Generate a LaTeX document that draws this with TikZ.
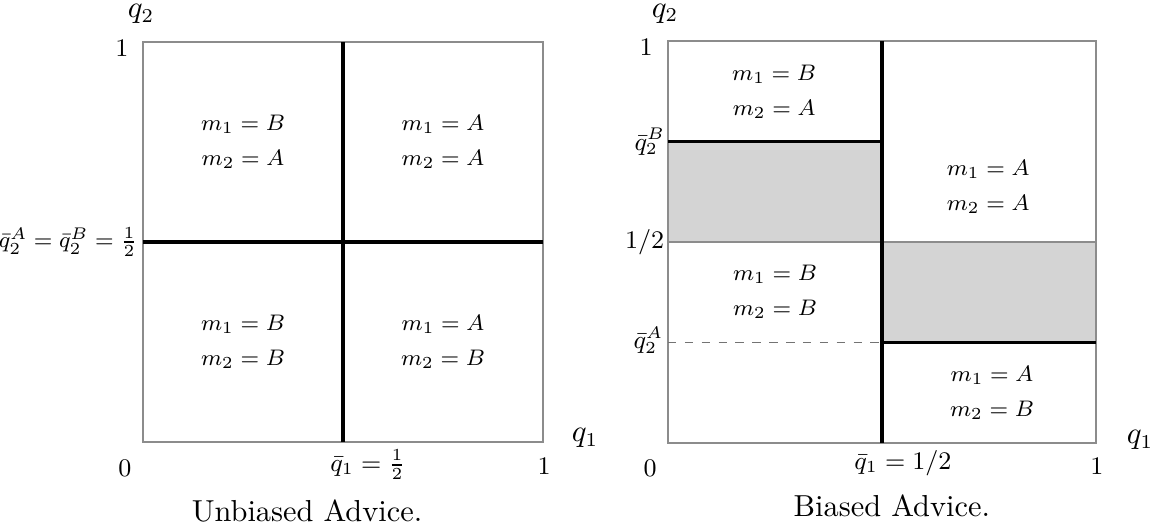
\documentclass[tikz,border=0pt]{standalone}
\usepackage{amsmath}
\usepackage{tikz}
\usetikzlibrary{positioning}

\begin{document}
\begin{tikzpicture}[
    frame/.style={draw=black!45, line width=0.4pt},
    bound/.style={draw=black, line width=1.15pt},
    guide/.style={draw=black!55, line width=0.4pt, dashed},
    shaded/.style={fill=black!17},
    region/.style={align=center, font=\fontsize{8.2}{12.4}\selectfont, inner sep=0pt},
    tick/.style={font=\fontsize{9}{11}\selectfont, inner sep=0pt},
    corner/.style={font=\fontsize{9.5}{11}\selectfont, inner sep=0pt},
    axis/.style={font=\fontsize{10.5}{12}\selectfont, inner sep=0pt},
    caption/.style={font=\fontsize{10.8}{13}\selectfont, inner sep=0pt}
]
\useasboundingbox (0,0) rectangle (14.4875,6.55);

% Unbiased advice
\begin{scope}[shift={(1.7875,1.025)}, x=5cm, y=5cm]
  \coordinate (uSW) at (0,0);
  \coordinate (uNE) at (1,1);
  \coordinate (uS) at (0.5,0);
  \coordinate (uN) at (0.5,1);
  \coordinate (uW) at (0,0.5);
  \coordinate (uE) at (1,0.5);
  \draw[frame] (uSW) rectangle (uNE);
  \draw[bound] (uS) -- (uN);
  \draw[bound] (uW) -- (uE);

  \node[region] (uBA) at (0.25,0.75) {$m_1 = B$\\$m_2 = A$};
  \node[region] (uAA) at (0.75,0.75) {$m_1 = A$\\$m_2 = A$};
  \node[region] (uBB) at (0.25,0.25) {$m_1 = B$\\$m_2 = B$};
  \node[region] (uAB) at (0.75,0.25) {$m_1 = A$\\$m_2 = B$};

  \node[axis] (uq2) at (-0.005,1.07) {$q_2$};
  \node[axis] (uq1) at (1.105,0.01) {$q_1$};
  \node[corner] (utop) at (-0.0525,0.985) {$1$};
  \node[corner] (uzero) at (-0.045,-0.065) {$0$};
  \node[corner] (uone) at (1.0025,-0.06) {$1$};
  \node[tick, anchor=east, font=\fontsize{8}{10}\selectfont] (ubar2) at (-0.0125,0.5) {$\bar{q}_2^A = \bar{q}_2^B = \frac{1}{2}$};
  \node[tick] (ubar1) at (0.5625,-0.0575) {$\bar{q}_1 = \frac{1}{2}$};
  \node[caption] (ucap) at (0.41,-0.1725) {Unbiased Advice.};
\end{scope}

% Biased advice
\begin{scope}[shift={(8.35,1.0125)}, x=5.35cm, y=5.025cm]
  \coordinate (bSW) at (0,0);
  \coordinate (bNE) at (1,1);
  \coordinate (bS) at (0.5,0);
  \coordinate (bN) at (0.5,1);
  \coordinate (bW) at (0,0.5);
  \coordinate (bE) at (1,0.5);
  \coordinate (bHi) at (0,0.75);
  \coordinate (bHiC) at (0.5,0.75);
  \coordinate (bLo) at (0,0.25);
  \coordinate (bLoC) at (0.5,0.25);
  \coordinate (bLoE) at (1,0.25);
  \fill[shaded] (bW) rectangle (bHiC);
  \fill[shaded] (bLoC) rectangle (bE);
  \draw[frame] (bSW) rectangle (bNE);
  \draw[frame] (bW) -- (bE);
  \draw[guide] (bLo) -- (bLoC);
  \draw[bound] (bS) -- (bN);
  \draw[bound] (bHi) -- (bHiC);
  \draw[bound] (bLoC) -- (bLoE);

  \node[region] (bBA) at (0.248,0.873) {$m_1 = B$\\$m_2 = A$};
  \node[region] (bAA) at (0.748,0.637) {$m_1 = A$\\$m_2 = A$};
  \node[region] (bBB) at (0.25,0.376) {$m_1 = B$\\$m_2 = B$};
  \node[region] (bAB) at (0.757,0.124) {$m_1 = A$\\$m_2 = B$};

  \node[axis] (bq2) at (-0.007,1.068) {$q_2$};
  \node[axis] (bq1) at (1.103,0.007) {$q_1$};
  \node[corner] (btop) at (-0.051,0.985) {$1$};
  \node[corner] (bzero) at (-0.042,-0.062) {$0$};
  \node[corner] (bone) at (1.002,-0.057) {$1$};
  \node[tick, anchor=east] (bbarB) at (-0.006,0.75) {$\bar{q}_2^B$};
  \node[tick, anchor=east] (bhalf) at (-0.008,0.5) {$1/2$};
  \node[tick, anchor=east] (bbarA) at (-0.01,0.256) {$\bar{q}_2^A$};
  \node[tick] (bbar1) at (0.549,-0.05) {$\bar{q}_1 = 1/2$};
  \node[caption] (bcap) at (0.523,-0.157) {Biased Advice.};
\end{scope}
\end{tikzpicture}
\end{document}
